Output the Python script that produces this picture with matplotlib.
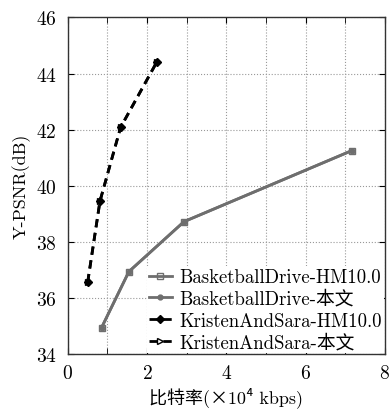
import matplotlib
matplotlib.use("Agg")
import matplotlib.pyplot as plt
from matplotlib.ticker import MultipleLocator

plt.rcParams['font.family'] = ['cmr10', 'Noto Sans CJK SC', 'DejaVu Serif']
plt.rcParams['mathtext.fontset'] = 'cm'
plt.rcParams['axes.formatter.use_mathtext'] = True

bd_rate = [0.85, 1.54, 2.93, 7.16]
bd_psnr = [34.94, 36.94, 38.72, 41.25]
ks_rate = [0.50, 0.81, 1.33, 2.24]
ks_psnr = [36.56, 39.45, 42.08, 44.40]
labels = ['BasketballDrive-HM10.0', 'BasketballDrive-本文',
          'KristenAndSara-HM10.0', 'KristenAndSara-本文']

fig = plt.figure(figsize=(3.9, 4.1), dpi=100)
ax = fig.add_axes([0.174, 0.134, 0.813, 0.821])

gray = '#6e6e6e'
ax.plot(bd_rate, bd_psnr, color=gray, lw=2.0, marker='s', ms=5,
        mfc='none', mec=gray, mew=1.0, label=labels[0])
ax.plot(bd_rate, bd_psnr, color=gray, lw=2.0, marker='o', ms=3.5,
        mfc=gray, mec=gray, label=labels[1])
ax.plot(ks_rate, ks_psnr, color='black', lw=2.0, ls=(0, (3, 2)), marker='D', ms=4,
        mfc='black', mec='black', label=labels[2])
ax.plot(ks_rate, ks_psnr, color='black', lw=2.0, ls=(0, (3, 2)), marker='>', ms=5,
        mfc='none', mec='black', mew=1.0, label=labels[3])

ax.set_xlim(0, 8)
ax.set_ylim(34, 46)
ax.xaxis.set_major_locator(MultipleLocator(2))
ax.xaxis.set_minor_locator(MultipleLocator(1))
ax.yaxis.set_major_locator(MultipleLocator(2))
ax.grid(True, which='both', ls=':', color='#999999', lw=0.8)
ax.tick_params(which='both', direction='in', top=True, right=True, labelsize=14)
ax.tick_params(axis='y', which='major', length=4, pad=8)
ax.tick_params(axis='x', which='major', length=4, pad=7)
ax.tick_params(which='minor', length=4)
for s in ax.spines.values():
    s.set_linewidth(1.0)
    s.set_color('#333333')

ax.set_xlabel('比特率(×10⁴ kbps)', fontsize=13, labelpad=3)
ax.set_ylabel('Y-PSNR(dB)', fontsize=13, labelpad=4)

leg = ax.legend(loc='lower right', fontsize=13.5, frameon=True, fancybox=False,
                edgecolor='none', facecolor='white', framealpha=1,
                handlelength=1.25, handletextpad=0.4, labelspacing=0.2,
                borderaxespad=0.05, borderpad=0.1)

fig.savefig('out.png', dpi=100)
